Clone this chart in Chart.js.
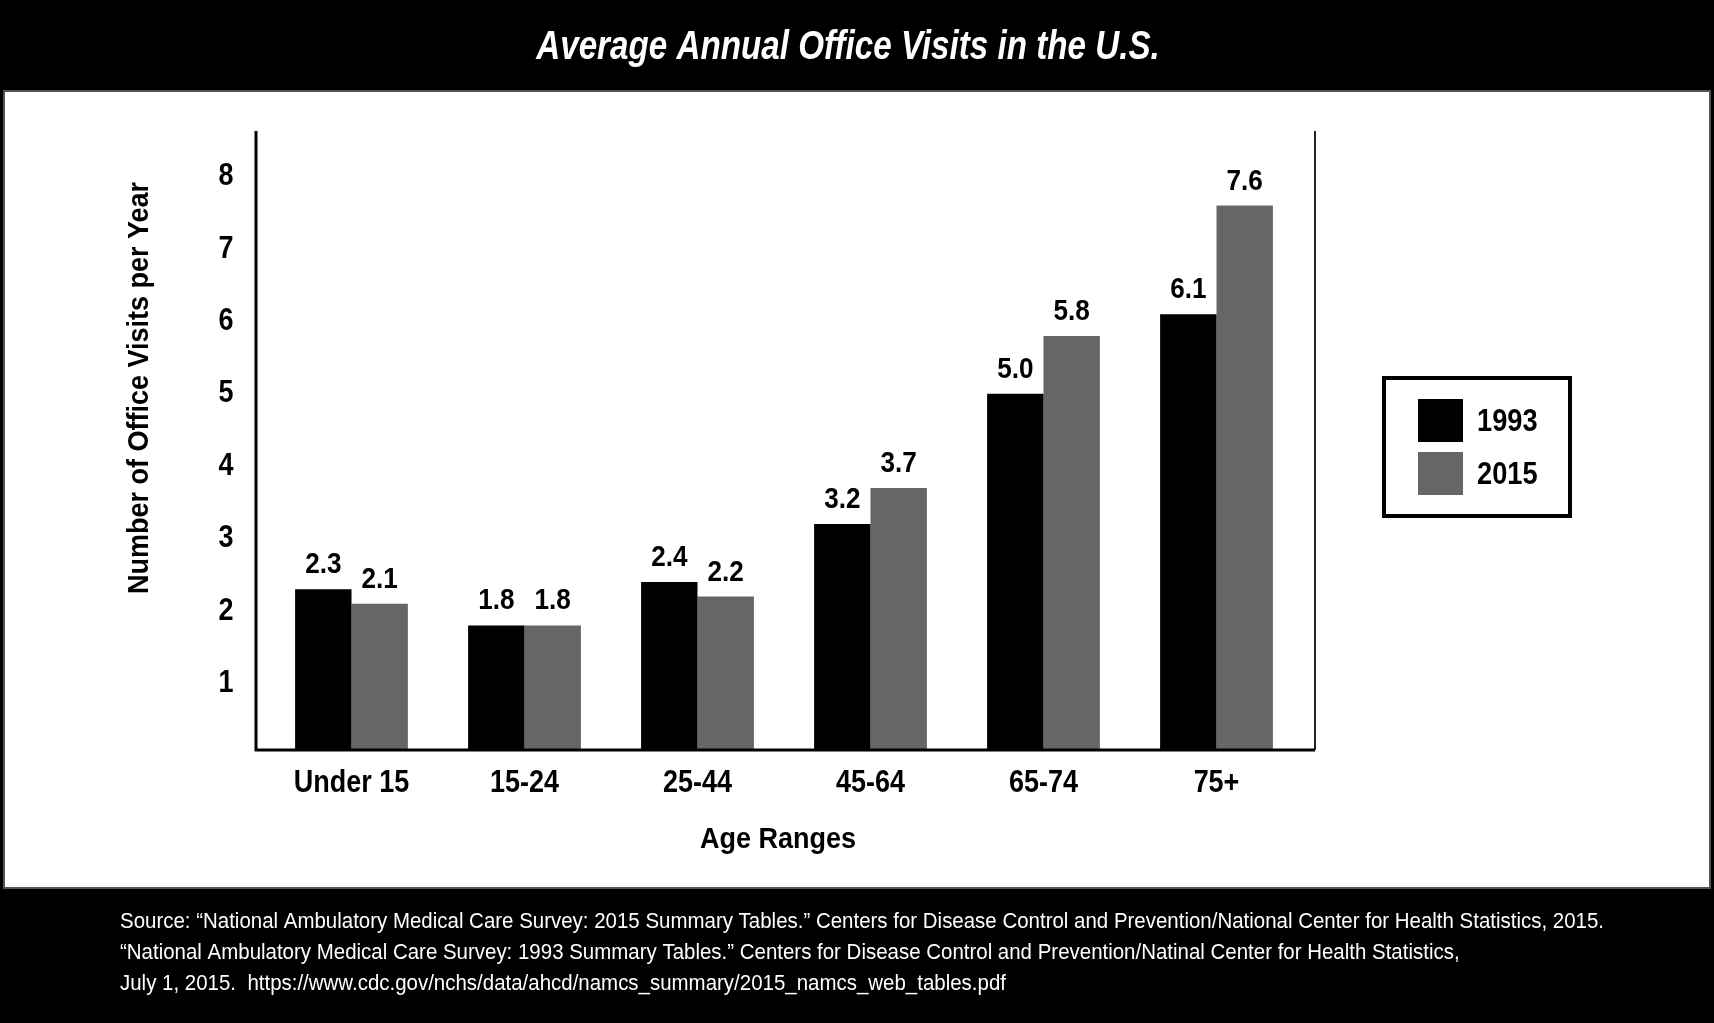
<!DOCTYPE html>
<html>
<head>
<meta charset="utf-8">
<script src="https://cdn.jsdelivr.net/npm/chart.js@4.4.0/dist/chart.umd.min.js"></script>
<style>
  html, body { margin: 0; padding: 0; background: #000; }
  #wrap { width: 1714px; height: 1023px; }
</style>
</head>
<body>
<div id="wrap"><canvas id="visitsChart" width="1714" height="1023"></canvas></div>
<script>
// data
const ageRanges = ["Under 15", "15-24", "25-44", "45-64", "65-74", "75+"];
const visits1993 = [2.3, 1.8, 2.4, 3.2, 5.0, 6.1];
const visits2015 = [2.1, 1.8, 2.2, 3.7, 5.8, 7.6];
const seriesNames = ["1993", "2015"];
const yTicks = [1, 2, 3, 4, 5, 6, 7, 8];

const chartTitle = "Average Annual Office Visits in the U.S.";
const yTitle = "Number of Office Visits per Year";
const xTitle = "Age Ranges";
const sourceLines = [
  "Source: \u201cNational Ambulatory Medical Care Survey: 2015 Summary Tables.\u201d Centers for Disease Control and Prevention/National Center for Health Statistics, 2015.",
  "\u201cNational Ambulatory Medical Care Survey: 1993 Summary Tables.\u201d Centers for Disease Control and Prevention/Natinal Center for Health Statistics,",
  "July 1, 2015.  https://www.cdc.gov/nchs/data/ahcd/namcs_summary/2015_namcs_web_tables.pdf"
];

const SANS = "'Liberation Sans', Arial, sans-serif";

// the original uses a narrow face, so squeeze the text a bit
function narrowText(ctx, text, x, y, sx) {
  ctx.save();
  ctx.translate(x, y);
  ctx.scale(sx, 1);
  ctx.fillText(text, 0, 0);
  ctx.restore();
}

const decor = {
  id: 'decor',
  beforeDraw(chart) {
    const ctx = chart.ctx;
    ctx.save();
    ctx.fillStyle = '#000';
    ctx.fillRect(0, 0, chart.width, chart.height);
    ctx.fillStyle = '#fff';
    ctx.fillRect(4, 91, 1706, 797);
    ctx.strokeStyle = '#555';
    ctx.lineWidth = 2;
    ctx.strokeRect(4, 91, 1706, 797);
    ctx.restore();
  },
  afterDatasetsDraw(chart) {
    const ctx = chart.ctx;
    const a = chart.chartArea;
    ctx.save();
    // frame: left axis, bottom axis, thin right edge
    ctx.strokeStyle = '#000';
    ctx.lineWidth = 3;
    ctx.beginPath();
    ctx.moveTo(a.left - 9, a.top);
    ctx.lineTo(a.left - 9, a.bottom);
    ctx.lineTo(a.right + 12, a.bottom);
    ctx.stroke();
    ctx.strokeStyle = '#222';
    ctx.lineWidth = 2;
    ctx.beginPath();
    ctx.moveTo(a.right + 12, a.top);
    ctx.lineTo(a.right + 12, a.bottom);
    ctx.stroke();

    // value labels above bars
    ctx.fillStyle = '#000';
    ctx.font = 'bold 29px ' + SANS;
    ctx.textAlign = 'center';
    ctx.textBaseline = 'alphabetic';
    chart.data.datasets.forEach((ds, i) => {
      chart.getDatasetMeta(i).data.forEach((bar, j) => {
        narrowText(ctx, ds.data[j].toFixed(1), bar.x, bar.y - 16, 0.9);
      });
    });
    ctx.restore();
  },
  afterDraw(chart) {
    const ctx = chart.ctx;
    const a = chart.chartArea;
    const xs = chart.scales.x;
    const ys = chart.scales.y;
    ctx.save();

    // title
    ctx.fillStyle = '#fff';
    ctx.font = 'italic bold 40px ' + SANS;
    ctx.textAlign = 'center';
    ctx.textBaseline = 'middle';
    narrowText(ctx, chartTitle, 848, 48, 0.83);

    // tick labels
    ctx.fillStyle = '#000';
    ctx.font = 'bold 31px ' + SANS;
    ys.ticks.forEach(t => {
      narrowText(ctx, String(t.value), a.left - 39, ys.getPixelForValue(t.value), 0.87);
    });
    ageRanges.forEach((lab, i) => {
      narrowText(ctx, lab, xs.getPixelForTick(i), 783, 0.87);
    });

    // axis titles
    ctx.font = 'bold 30px ' + SANS;
    narrowText(ctx, xTitle, (a.left + a.right) / 2 - 6, 840, 0.9);
    ctx.save();
    ctx.translate(140, 388);
    ctx.rotate(-Math.PI / 2);
    narrowText(ctx, yTitle, 0, 0, 0.9);
    ctx.restore();

    // legend
    ctx.strokeStyle = '#000';
    ctx.lineWidth = 4;
    ctx.strokeRect(1384, 378, 186, 138);
    ctx.textAlign = 'left';
    ctx.font = 'bold 32px ' + SANS;
    chart.data.datasets.forEach((ds, i) => {
      const y = 399 + i * 53;
      ctx.fillStyle = ds.backgroundColor;
      ctx.fillRect(1418, y, 45, 43);
      ctx.fillStyle = '#000';
      narrowText(ctx, ds.label, 1477, y + 23, 0.85);
    });

    // source lines
    ctx.fillStyle = '#fff';
    ctx.font = '22px ' + SANS;
    sourceLines.forEach((line, i) => {
      narrowText(ctx, line, 120, 922 + i * 31, 0.93);
    });
    ctx.restore();
  }
};

new Chart(document.getElementById('visitsChart'), {
  type: 'bar',
  data: {
    labels: ageRanges,
    datasets: [
      { label: seriesNames[0], data: visits1993, backgroundColor: '#000000', clip: 0 },
      { label: seriesNames[1], data: visits2015, backgroundColor: '#666666', clip: 0 }
    ]
  },
  options: {
    responsive: false,
    animation: false,
    devicePixelRatio: 1,
    layout: { padding: { top: 131, left: 115, right: 411, bottom: 163 } },
    datasets: { bar: { categoryPercentage: 0.652, barPercentage: 1.0 } },
    plugins: {
      legend: { display: false },
      tooltip: { enabled: false }
    },
    scales: {
      x: {
        grid: { display: false },
        border: { display: false },
        ticks: { display: false },
        afterFit(scale) { scale.height = 110; }
      },
      y: {
        min: 0.08,
        max: 8.63,
        grid: { display: false },
        border: { display: false },
        ticks: { display: false },
        afterBuildTicks(scale) { scale.ticks = yTicks.map(v => ({ value: v })); },
        afterFit(scale) { scale.width = 150; }
      }
    }
  },
  plugins: [decor]
});
</script>
</body>
</html>
